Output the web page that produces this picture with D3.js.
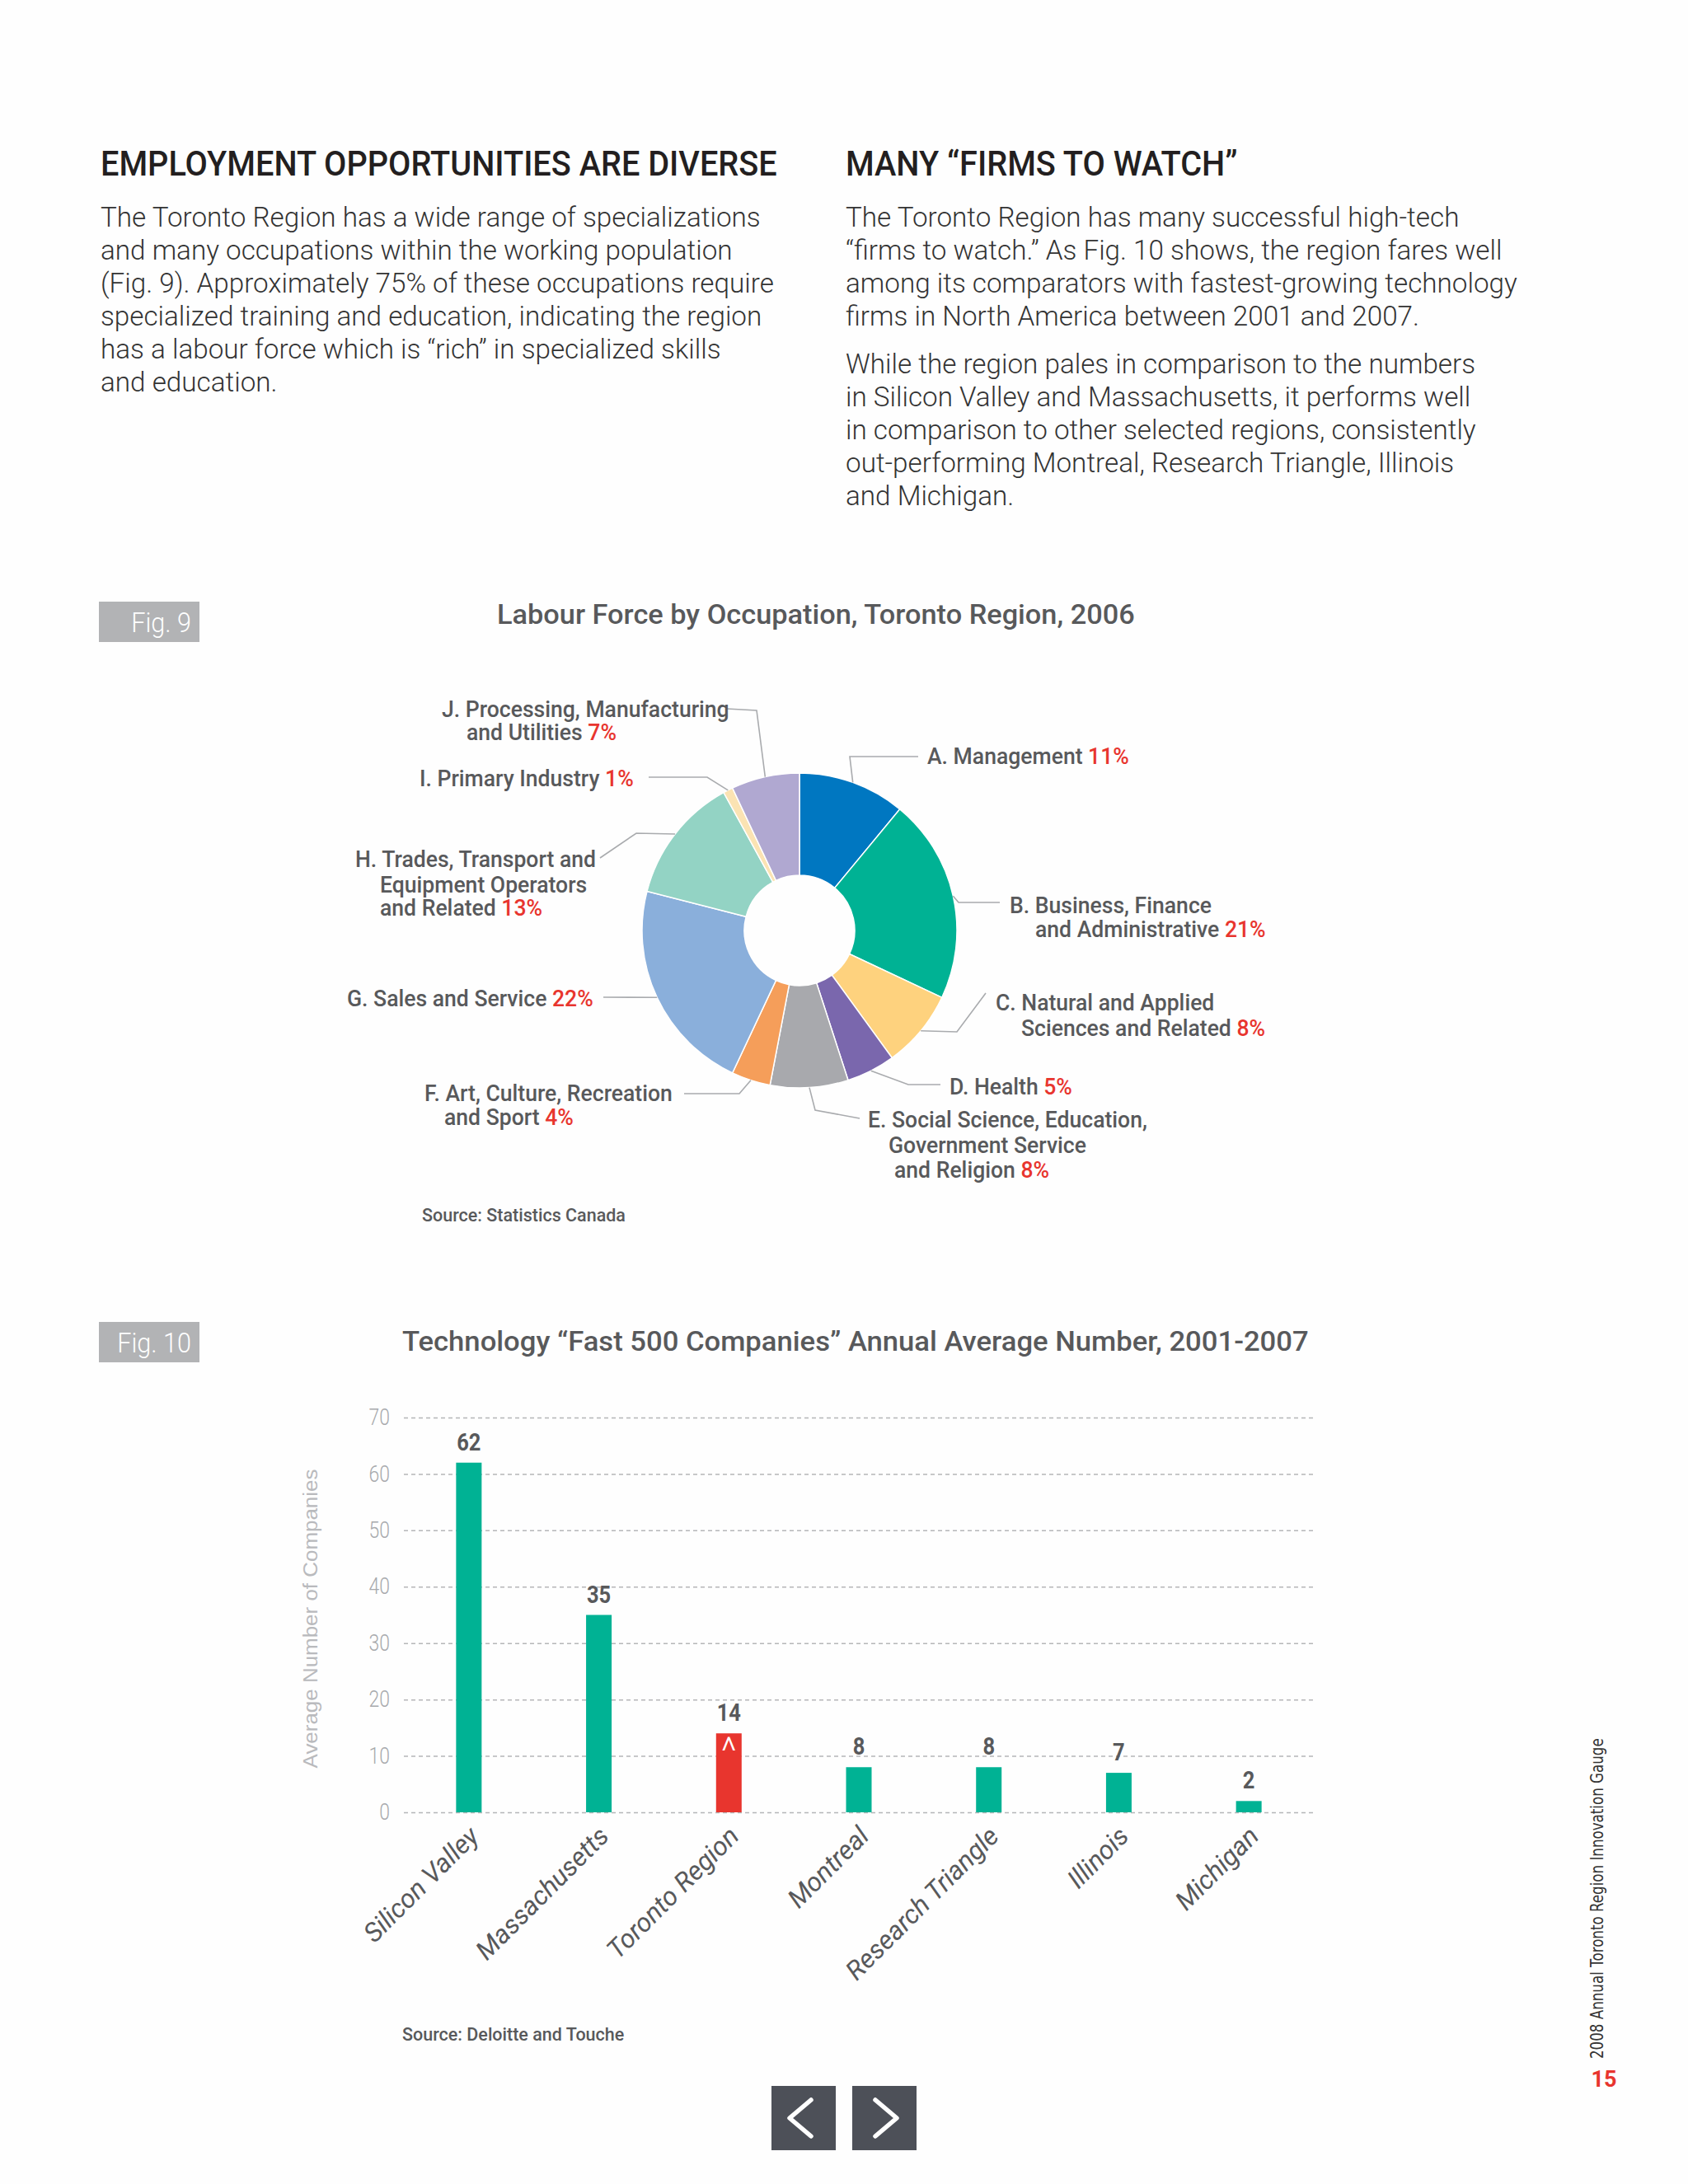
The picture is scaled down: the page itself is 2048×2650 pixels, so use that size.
<!DOCTYPE html>
<html><head><meta charset="utf-8">
<script src="https://cdn.jsdelivr.net/npm/d3@7"></script>
<style>body{margin:0;background:#fff;} svg{display:block;}</style>
</head><body>
<svg id="page" width="2048" height="2650"></svg>
<script>
// ---------------- DATA ----------------
const pieCodes   = ["A","B","C","D","E","F","G","H","I","J"];
const pieValues  = [11, 21, 8, 5, 8, 4, 22, 13, 1, 7];
const pieLabels  = [
  [["A. Management ","11%"]],
  [["B. Business, Finance",""],["and Administrative ","21%"]],
  [["C. Natural and Applied",""],["Sciences and Related ","8%"]],
  [["D. Health ","5%"]],
  [["E. Social Science, Education,",""],["Government Service",""],["and Religion ","8%"]],
  [["F. Art, Culture, Recreation",""],["and Sport ","4%"]],
  [["G. Sales and Service ","22%"]],
  [["H. Trades, Transport and",""],["Equipment Operators",""],["and Related ","13%"]],
  [["I. Primary Industry ","1%"]],
  [["J. Processing, Manufacturing",""],["and Utilities ","7%"]]
];
const barCategories = ["Silicon Valley","Massachusetts","Toronto Region","Montreal","Research Triangle","Illinois","Michigan"];
const barValues     = [62, 35, 14, 8, 8, 7, 2];
const yTicks        = [0,10,20,30,40,50,60,70];

const leftHeading  = "EMPLOYMENT OPPORTUNITIES ARE DIVERSE";
const rightHeading = "MANY “FIRMS TO WATCH”";
const leftPara = [
  "The Toronto Region has a wide range of specializations",
  "and many occupations within the working population",
  "(Fig. 9). Approximately 75% of these occupations require",
  "specialized training and education, indicating the region",
  "has a labour force which is “rich” in specialized skills",
  "and education."
];
const rightPara1 = [
  "The Toronto Region has many successful high-tech",
  "“firms to watch.” As Fig. 10 shows, the region fares well",
  "among its comparators with fastest-growing technology",
  "firms in North America between 2001 and 2007."
];
const rightPara2 = [
  "While the region pales in comparison to the numbers",
  "in Silicon Valley and Massachusetts, it performs well",
  "in comparison to other selected regions, consistently",
  "out-performing Montreal, Research Triangle, Illinois",
  "and Michigan."
];

// ---------------- STYLE / LAYOUT ----------------
const pieColors = ["#0077c1","#00b294","#fed27e","#7a67ad","#a8a9ad","#f59e5a","#8aafdb","#93d3c4","#fbe3b3","#b0a8d1"];
const pieLayout = [
  {lines:[[1125,927]], leader:[[1031,918],[1114,918]]},
  {lines:[[1225,1108],[1256,1137]], leader:[[1163,1095],[1213,1095]]},
  {lines:[[1208,1226],[1239,1257]], leader:[[1161,1252],[1196,1205]]},
  {lines:[[1152,1328]], leader:[[1102,1316],[1141,1316]]},
  {lines:[[1053,1368],[1078,1399],[1085,1429]], leader:[[989,1347],[1043,1357]]},
  {lines:[[515,1336],[539,1365]], leader:[[897,1327],[830,1327]]},
  {lines:[[421,1221]], leader:[[732,1210]]},
  {lines:[[431,1052],[461,1083],[461,1111]], leader:[[772,1011],[728,1041]]},
  {lines:[[509,954]], leader:[[858,943],[787,943]]},
  {lines:[[536,870],[566,898]], leader:[[918,862],[882,860]]}
];
const FONT = "Roboto, 'Open Sans', sans-serif";
const DARK = "#58595b", RED = "#e8352e", TEAL = "#00b294";

const svg = d3.select("#page");
svg.append("rect").attr("width",2048).attr("height",2650).attr("fill","#fefefe");

function measure(text, size, weight, style, family){
  const t = svg.append("text").attr("font-family",family||FONT).attr("font-size",size)
    .attr("font-weight",weight||400).attr("font-style",style||"normal").text(text);
  const w = t.node().getComputedTextLength(); t.remove(); return w;
}
function txt(parent, o){
  const t = parent.append("text")
    .attr("transform",`translate(${o.x},${o.y})${o.rot!=null?` rotate(${o.rot})`:""} scale(${o.sx||1},1)`)
    .attr("font-family",o.family||FONT).attr("font-size",o.size).attr("font-weight",o.weight||400)
    .attr("font-style",o.style||"normal").attr("fill",o.fill||"#333").attr("text-anchor",o.anchor||"start");
  if(o.ls) t.attr("letter-spacing",o.ls);
  if(o.text!=null) t.text(o.text);
  return t;
}

// ---------------- TEXT BLOCKS ----------------
const hSx = 821 / measure(leftHeading, 43, 500);
txt(svg,{x:122,y:213,text:leftHeading,size:43,weight:500,fill:"#231f20",sx:hSx});
txt(svg,{x:1026,y:213,text:rightHeading,size:43,weight:500,fill:"#231f20",sx:hSx});
const bSx = 801 / measure(leftPara[0], 34, 300);
leftPara.forEach((l,i)=>txt(svg,{x:122,y:275+i*40,text:l,size:34,weight:300,fill:"#333",sx:bSx}));
rightPara1.forEach((l,i)=>txt(svg,{x:1026,y:275+i*40,text:l,size:34,weight:300,fill:"#333",sx:bSx}));
rightPara2.forEach((l,i)=>txt(svg,{x:1026,y:453+i*40,text:l,size:34,weight:300,fill:"#333",sx:bSx}));

// fig boxes
function figBox(y, label){
  svg.append("rect").attr("x",120).attr("y",y).attr("width",122).attr("height",49).attr("fill","#b2b3b5");
  txt(svg,{x:232,y:y+37,text:label,size:34,weight:300,fill:"#fff",anchor:"end",sx:0.9});
}
figBox(730,"Fig. 9");
figBox(1604,"Fig. 10");

// titles
const t9 = "Labour Force by Occupation, Toronto Region, 2006";
const t10 = "Technology “Fast 500 Companies” Annual Average Number, 2001-2007";
txt(svg,{x:603,y:757,text:t9,size:34,weight:500,fill:DARK,sx:774/measure(t9,34,500)});
txt(svg,{x:488,y:1639,text:t10,size:34,weight:500,fill:DARK,sx:1100/measure(t10,34,500)});

// ---------------- PIE ----------------
const cx = 970, cy = 1129, rOut = 191, rIn = 67;
const pie = d3.pie().sort(null).value(d=>d)(pieValues);
const arc = d3.arc().innerRadius(rIn).outerRadius(rOut);
const pg = svg.append("g").attr("transform",`translate(${cx},${cy})`);
pg.selectAll("path").data(pie).join("path")
  .attr("d",arc).attr("fill",(d,i)=>pieColors[i]).attr("stroke","#fff").attr("stroke-width",1.5);

const lSx = 245 / measure("A. Management 11%", 28, 500);
pie.forEach((d,i)=>{
  const a = (d.startAngle+d.endAngle)/2;
  const start = [cx + rOut*Math.sin(a), cy - rOut*Math.cos(a)];
  const pts = [start, ...pieLayout[i].leader];
  svg.append("path").attr("d", d3.line()(pts)).attr("fill","none")
    .attr("stroke","#a9abae").attr("stroke-width",1.6);
  pieLabels[i].forEach((ln,j)=>{
    const [x,y] = pieLayout[i].lines[j];
    const t = txt(svg,{x,y,size:28,weight:500,fill:DARK,sx:lSx});
    t.append("tspan").text(ln[0]);
    if(ln[1]) t.append("tspan").attr("fill",RED).text(ln[1]);
  });
});
const sSx = 247 / measure("Source: Statistics Canada", 22, 500);
txt(svg,{x:512,y:1482,text:"Source: Statistics Canada",size:22,weight:500,fill:DARK,sx:sSx});

// ---------------- BAR CHART ----------------
const x0 = 490, x1 = 1594;
const x = d3.scaleBand().domain(barCategories).range([x0,x1]).padding(0);
const y = d3.scaleLinear().domain([0,70]).range([2199,1720]);
const barW = 31;

const yAxis = svg.append("g").attr("transform",`translate(${x0},0)`)
  .call(d3.axisLeft(y).tickValues(yTicks).tickSize(-(x1-x0)).tickPadding(17).tickFormat(d3.format("d")));
yAxis.select(".domain").remove();
yAxis.selectAll(".tick line").attr("stroke","#b5b6b8").attr("stroke-width",1.5).attr("stroke-dasharray","5,4");
yAxis.selectAll(".tick text").attr("font-family",FONT).attr("font-size",27).attr("font-weight",300)
  .attr("fill","#a7a9ac").attr("transform","scale(0.85,1)").attr("x",-17/0.85);

const axTitle = "Average Number of Companies";
txt(svg,{x:385,y:1964,rot:-90,text:axTitle,size:24,weight:400,fill:"#b9babd",anchor:"middle",
  family:"'Liberation Sans', Arial, sans-serif", sx: 363/measure(axTitle,24,400,"normal","'Liberation Sans', Arial, sans-serif")});

svg.append("g").selectAll("rect").data(barValues).join("rect")
  .attr("x",(d,i)=>x(barCategories[i]) + x.bandwidth()/2 - barW/2)
  .attr("y",d=>y(d)).attr("width",barW).attr("height",d=>y(0)-y(d))
  .attr("fill",(d,i)=>barCategories[i]==="Toronto Region"?RED:TEAL);

barValues.forEach((v,i)=>{
  const c = x(barCategories[i]) + x.bandwidth()/2;
  txt(svg,{x:c,y:y(v)-15,text:String(v),size:30,weight:700,fill:DARK,anchor:"middle",sx:0.85});
  txt(svg,{x:c+14,y:y(0)+31,rot:-45,text:barCategories[i],size:32,weight:400,style:"italic",fill:DARK,anchor:"end"});
  if(barCategories[i]==="Toronto Region")
    txt(svg,{x:c,y:y(v)+38,text:"^",size:46,weight:300,fill:"#fff",anchor:"middle"});
});
txt(svg,{x:488,y:2476,text:"Source: Deloitte and Touche",size:22,weight:500,fill:DARK,sx:sSx});

// ---------------- PAGE FURNITURE ----------------
const side = "2008 Annual Toronto Region Innovation Gauge";
txt(svg,{x:1945,y:2498,rot:-90,text:side,size:22,weight:400,fill:"#333",
  family:"'DejaVu Sans', sans-serif", sx: 389/measure(side,22,400,"normal","'DejaVu Sans', sans-serif")});
txt(svg,{x:1946,y:2532,text:"15",size:27,weight:700,fill:RED,anchor:"middle"});

function navBtn(xp, dir){
  svg.append("rect").attr("x",xp).attr("y",2531).attr("width",78).attr("height",78).attr("fill","#4d5058");
  const pts = dir<0 ? [[48,17],[22,39],[48,61]] : [[28,17],[54,39],[28,61]];
  svg.append("path").attr("d",d3.line()(pts.map(p=>[xp+p[0],2531+p[1]])))
    .attr("fill","none").attr("stroke","#fff").attr("stroke-width",5.5)
    .attr("stroke-linecap","round").attr("stroke-linejoin","round");
}
navBtn(936,-1);
navBtn(1034,1);
</script>
</body></html>
